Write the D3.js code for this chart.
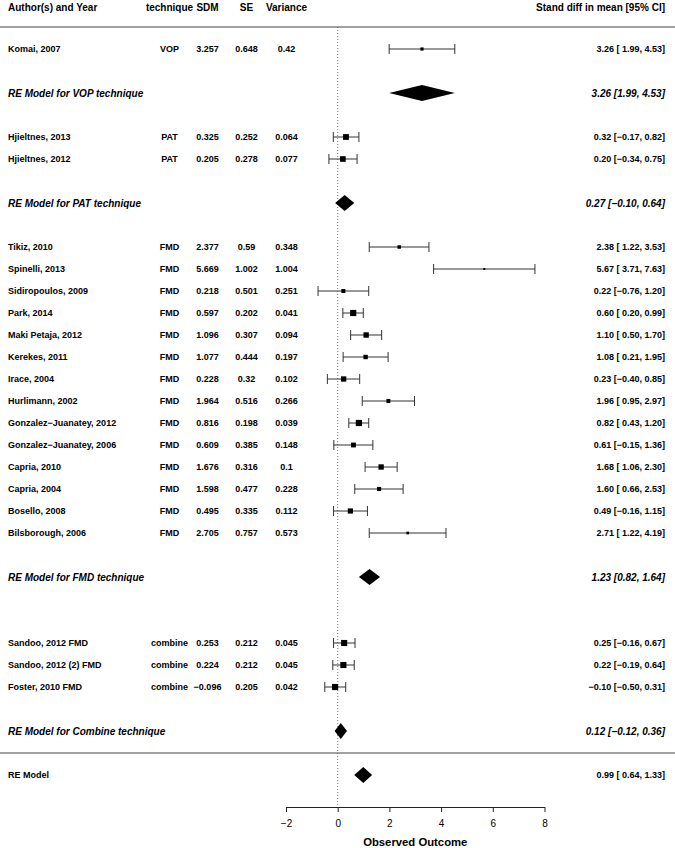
<!DOCTYPE html>
<html>
<head>
<meta charset="utf-8">
<script src="https://cdn.jsdelivr.net/npm/d3@7"></script>
<style>
body { margin: 0; background: #fff; }
text { font-family: "Liberation Sans", Arial, sans-serif; fill: #000; }
</style>
</head>
<body>
<script>
// study rows
const studies = ["Komai, 2007", "Hjieltnes, 2013", "Hjieltnes, 2012", "Tikiz, 2010", "Spinelli, 2013",
  "Sidiropoulos, 2009", "Park, 2014", "Maki Petaja, 2012", "Kerekes, 2011", "Irace, 2004",
  "Hurlimann, 2002", "Gonzalez\u2212Juanatey, 2012", "Gonzalez\u2212Juanatey, 2006", "Capria, 2010",
  "Capria, 2004", "Bosello, 2008", "Bilsborough, 2006", "Sandoo, 2012 FMD", "Sandoo, 2012 (2) FMD",
  "Foster, 2010 FMD"]
const technique = ["VOP", "PAT", "PAT", "FMD", "FMD", "FMD", "FMD", "FMD", "FMD", "FMD", "FMD",
  "FMD", "FMD", "FMD", "FMD", "FMD", "FMD", "combine", "combine", "combine"]
const sdm = [3.257, 0.325, 0.205, 2.377, 5.669, 0.218, 0.597, 1.096, 1.077, 0.228, 1.964, 0.816,
  0.609, 1.676, 1.598, 0.495, 2.705, 0.253, 0.224, -0.096]
const se = [0.648, 0.252, 0.278, 0.59, 1.002, 0.501, 0.202, 0.307, 0.444, 0.32, 0.516, 0.198,
  0.385, 0.316, 0.477, 0.335, 0.757, 0.212, 0.212, 0.205]
const variance = [0.42, 0.064, 0.077, 0.348, 1.004, 0.251, 0.041, 0.094, 0.197, 0.102, 0.266, 0.039,
  0.148, 0.1, 0.228, 0.112, 0.573, 0.045, 0.045, 0.042]
const est = [3.26, 0.32, 0.20, 2.38, 5.67, 0.22, 0.60, 1.10, 1.08, 0.23, 1.96, 0.82, 0.61, 1.68,
  1.60, 0.49, 2.71, 0.25, 0.22, -0.10]
const lower = [1.99, -0.17, -0.34, 1.22, 3.71, -0.76, 0.20, 0.50, 0.21, -0.40, 0.95, 0.43, -0.15,
  1.06, 0.66, -0.16, 1.22, -0.16, -0.19, -0.50]
const upper = [4.53, 0.82, 0.75, 3.53, 7.63, 1.20, 0.99, 1.70, 1.95, 0.85, 2.97, 1.20, 1.36, 2.30,
  2.53, 1.15, 4.19, 0.67, 0.64, 0.31]
const studyRows = [0, 4, 5, 9, 10, 11, 12, 13, 14, 15, 16, 17, 18, 19, 20, 21, 22, 27, 28, 29]

// subgroup models
const groups = ["RE Model for VOP technique", "RE Model for PAT technique",
  "RE Model for FMD technique", "RE Model for Combine technique"]
const groupEst = [3.26, 0.27, 1.23, 0.12]
const groupLower = [1.99, -0.10, 0.82, -0.12]
const groupUpper = [4.53, 0.64, 1.64, 0.36]
const groupRows = [2, 7, 24, 31]

// overall model
const overall = {label: "RE Model", est: 0.99, lower: 0.64, upper: 1.33, row: 33}

const xTicks = [-2, 0, 2, 4, 6, 8]
const tau2 = 0.3

const width = 675, height = 848

const svg = d3.select("body").append("svg")
  .attr("width", width)
  .attr("height", height)

const x = d3.scaleLinear().domain([-2, 8]).range([286, 544.5])
const y = d3.scaleLinear().domain([0, 33]).range([49, 775])

const f2 = d3.format(".2f")
const num = v => String(v).replace("-", "\u2212")
const ciText = (e, l, u, pad) => f2(e) + " [" + (pad && l >= 0 ? " " : "") + f2(l) + ", " + f2(u) + "]"

const w = variance.map(v => 1 / (v + tau2))
const size = d3.scaleLinear().domain(d3.extent(w)).range([2, 6.2])

// header
const head = svg.append("g").attr("font-size", 10).attr("font-weight", "bold")
head.append("text").attr("x", 8).attr("y", 11).text("Author(s) and Year")
const cols = [{t: "technique", x: 169.5}, {t: "SDM", x: 207.5}, {t: "SE", x: 246.5}, {t: "Variance", x: 286.5}]
cols.forEach(c => head.append("text").attr("x", c.x).attr("y", 11).attr("text-anchor", "middle").text(c.t))
head.append("text").attr("x", 665).attr("y", 11).attr("text-anchor", "end").text("Stand diff in mean [95% CI]")

// lines
svg.append("line").attr("x1", 0).attr("x2", width).attr("y1", y(-1)).attr("y2", y(-1))
  .attr("stroke", "#444").attr("stroke-width", 1)
svg.append("line").attr("x1", 0).attr("x2", width).attr("y1", y(32)).attr("y2", y(32))
  .attr("stroke", "#444").attr("stroke-width", 1)
svg.append("line").attr("x1", x(0)).attr("x2", x(0)).attr("y1", y(-1)).attr("y2", 805)
  .attr("stroke", "#555").attr("stroke-width", 0.8).attr("stroke-dasharray", "1,2")

// study rows
const rows = svg.append("g").selectAll("g")
  .data(studies.map((s, i) => i))
  .enter()
  .append("g")
    .attr("transform", i => "translate(0," + y(studyRows[i]) + ")")

rows.append("text").attr("x", 8).attr("dy", "0.35em").attr("font-size", 9).attr("font-weight", "bold")
  .text(i => studies[i])
const colVals = [technique, sdm, se, variance]
colVals.forEach((arr, k) => {
  rows.append("text").attr("x", cols[k].x).attr("dy", "0.35em").attr("text-anchor", "middle")
    .attr("font-size", 9).attr("font-weight", "bold")
    .text(i => typeof arr[i] === "number" ? num(arr[i]) : arr[i])
})
rows.append("text").attr("x", 665).attr("dy", "0.35em").attr("text-anchor", "end")
  .attr("font-size", 9).attr("font-weight", "bold")
  .text(i => ciText(est[i], lower[i], upper[i], true))

rows.append("line").attr("x1", i => x(lower[i])).attr("x2", i => x(upper[i]))
  .attr("stroke", "#333").attr("stroke-width", 1)
rows.append("line").attr("x1", i => x(lower[i])).attr("x2", i => x(lower[i]))
  .attr("y1", -5).attr("y2", 5).attr("stroke", "#333").attr("stroke-width", 1)
rows.append("line").attr("x1", i => x(upper[i])).attr("x2", i => x(upper[i]))
  .attr("y1", -5).attr("y2", 5).attr("stroke", "#333").attr("stroke-width", 1)
rows.append("rect")
  .attr("x", i => x(est[i]) - size(w[i]) / 2)
  .attr("y", i => -size(w[i]) / 2)
  .attr("width", i => size(w[i]))
  .attr("height", i => size(w[i]))
  .attr("fill", "#000")

// diamonds
const diamond = (e, l, u) => "M" + x(l) + ",0L" + x(e) + ",-8L" + x(u) + ",0L" + x(e) + ",8Z"

const gr = svg.append("g").selectAll("g")
  .data(groups.map((s, i) => i))
  .enter()
  .append("g")
    .attr("transform", i => "translate(0," + y(groupRows[i]) + ")")
gr.append("text").attr("x", 8).attr("dy", "0.35em").attr("font-size", 10)
  .attr("font-weight", "bold").attr("font-style", "italic").text(i => groups[i])
gr.append("text").attr("x", 665).attr("dy", "0.35em").attr("text-anchor", "end").attr("font-size", 10)
  .attr("font-weight", "bold").attr("font-style", "italic")
  .text(i => ciText(groupEst[i], groupLower[i], groupUpper[i], false))
gr.append("path").attr("d", i => diamond(groupEst[i], groupLower[i], groupUpper[i])).attr("fill", "#000")

const ov = svg.append("g").attr("transform", "translate(0," + y(overall.row) + ")")
ov.append("text").attr("x", 8).attr("dy", "0.35em").attr("font-size", 9).attr("font-weight", "bold")
  .text(overall.label)
ov.append("text").attr("x", 665).attr("dy", "0.35em").attr("text-anchor", "end").attr("font-size", 9)
  .attr("font-weight", "bold").text(ciText(overall.est, overall.lower, overall.upper, true))
ov.append("path").attr("d", diamond(overall.est, overall.lower, overall.upper)).attr("fill", "#000")

// axis
const axis = svg.append("g")
  .attr("transform", "translate(0,807)")
  .call(d3.axisBottom(x).tickValues(xTicks).tickSize(5).tickSizeOuter(0).tickPadding(8)
    .tickFormat(d3.format("d")))
axis.select(".domain").attr("stroke", "#222")
axis.selectAll(".tick line").attr("stroke", "#222")
axis.selectAll("text").attr("font-size", 10).attr("font-family", "Liberation Sans, Arial, sans-serif")
svg.append("text").attr("x", x(3)).attr("y", 846).attr("text-anchor", "middle")
  .attr("font-size", 11.3).attr("font-weight", "bold").text("Observed Outcome")
</script>
</body>
</html>
